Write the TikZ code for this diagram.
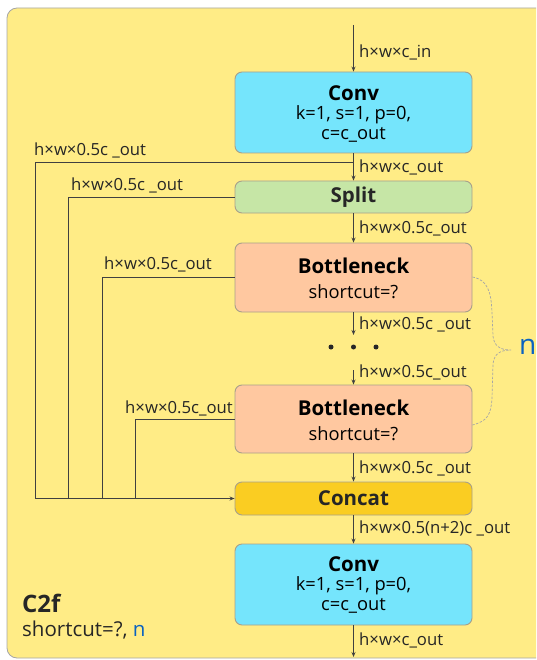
\documentclass[tikz,border=0pt]{standalone}
\usepackage{fontspec}
\setmainfont{Open Sans}
\usetikzlibrary{arrows.meta}
\definecolor{bgyel}{HTML}{FFEC86}
\definecolor{convc}{HTML}{75E5FC}
\definecolor{splitc}{HTML}{C6E6A6}
\definecolor{bnc}{HTML}{FFC8A0}
\definecolor{catc}{HTML}{FACD22}
\definecolor{edgec}{HTML}{A8A08A}
\definecolor{linec}{HTML}{404040}
\definecolor{nblue}{HTML}{0A62C0}
\tikzset{
  blk/.style={draw=edgec, line width=0.9pt, rounded corners=7pt, minimum width=237pt, inner sep=0pt, align=center, text=black!85},
  ttl/.style={font=\fontsize{20.5}{24}\selectfont\bfseries},
  sub/.style={font=\fontsize{18.3}{20}\selectfont},
  lbl/.style={anchor=west, inner sep=0pt, font=\fontsize{16.7}{18}\selectfont, text=black!85},
  ln/.style={draw=linec, line width=0.8pt},
  arr/.style={ln, -{Stealth[length=5pt,width=4pt]}},
}
\begin{document}
\begin{tikzpicture}[x=1pt,y=-1pt]
\useasboundingbox (0,0) rectangle (536,660);
\begin{scope}
\clip (0,0) rectangle (536,660);
\draw[fill=bgyel, draw=black!35, line width=0.8pt, rounded corners=10pt] (7,8) rectangle (560,658);
\end{scope}
% blocks
\node[blk, fill=convc, minimum height=81pt] (conv1) at (353.5,112.5) {};
\node[ttl] at (353.5,93) {Conv};
\node[sub] at (353.5,115) {k=1, s=1, p=0,};
\node[sub] at (353.5,135) {c=c\_out};
\node[blk, fill=splitc, minimum height=32pt, ttl] (split) at (353.5,197) {Split};
\node[blk, fill=bnc, minimum height=69pt] (bn1) at (353.5,277.5) {};
\node[ttl] at (353.5,266) {Bottleneck};
\node[sub] at (353.5,292) {shortcut=?};
\node[blk, fill=bnc, minimum height=68pt] (bn2) at (353.5,419) {};
\node[ttl] at (353.5,408) {Bottleneck};
\node[sub] at (353.5,434) {shortcut=?};
\node[blk, fill=catc, minimum height=33pt, ttl] (concat) at (353.5,498.5) {Concat};
\node[blk, fill=convc, minimum height=81pt] (conv2) at (353.5,584.5) {};
\node[ttl] at (353.5,564) {Conv};
\node[sub] at (353.5,586) {k=1, s=1, p=0,};
\node[sub] at (353.5,606) {c=c\_out};
% coordinates
\coordinate (in) at (353.5,25);
\coordinate (out) at (353.5,657);
\coordinate (j1) at (353.5,162);
\coordinate (x1) at (35,498.5);
\coordinate (x2) at (68,498.5);
\coordinate (x3) at (102,498.5);
\coordinate (x4) at (135,498.5);
\coordinate (d1) at (353.5,335);
\coordinate (d2) at (353.5,370);
% main flow
\draw[arr] (in) -- (conv1.north);
\draw[arr] (conv1.south) -- (split.north);
\draw[arr] (split.south) -- (bn1.north);
\draw[arr] (bn1.south) -- (d1);
\draw[arr] (d2) -- (bn2.north);
\draw[arr] (bn2.south) -- (concat.north);
\draw[arr] (concat.south) -- (conv2.north);
\draw[arr] (conv2.south) -- (out);
% branches
\draw[ln] (j1) -| (x1);
\draw[ln] (split.west) -| (x2);
\draw[ln] (bn1.west) -| (x3);
\draw[ln] (bn2.west) -| (x4);
\draw[arr] (x1) -- (concat.west);
% dots
\foreach \xx/\nm in {331/da,353.5/db,376/dc} \fill[black!85] (\xx,347) circle (2.5pt) coordinate (\nm);
% labels
\node[lbl] at (359,52) {h×w×c\_in};
\node[lbl] at (34,150) {h×w×0.5c \_out};
\node[lbl] at (359,167) {h×w×c\_out};
\node[lbl] at (71,185) {h×w×0.5c \_out};
\node[lbl] at (359,228) {h×w×0.5c\_out};
\node[lbl] at (104,264) {h×w×0.5c\_out};
\node[lbl] at (359,324) {h×w×0.5c \_out};
\node[lbl] at (359,372) {h×w×0.5c\_out};
\node[lbl] at (125,408) {h×w×0.5c\_out};
\node[lbl] at (359,468) {h×w×0.5c \_out};
\node[lbl] at (359,528) {h×w×0.5(n+2)c \_out};
\node[lbl] at (359,640) {h×w×c\_out};
% brace
\draw[draw=black!35, line width=0.7pt, dashed, dash pattern=on 2.5pt off 1.5pt]
  (bn1.east |- 0,277) .. controls (488,280) and (491,292) .. (492,312)
  -- (493,336) .. controls (494,346) and (500,350) .. (511,350)
  .. controls (500,350) and (494,354) .. (493,364)
  -- (492,398) .. controls (491,414) and (488,421) .. (bn2.east |- 0,425);
\node[anchor=west, inner sep=0pt, text=nblue, font=\fontsize{28}{30}\selectfont] (nlab) at (519,347) {n};
% title
\node[anchor=west, inner sep=0pt, font=\fontsize{24}{28}\selectfont\bfseries, text=black!85] (c2f) at (22,603) {C2f};
\node[anchor=west, inner sep=0pt, font=\fontsize{20.5}{24}\selectfont, text=black!85] (sc) at (22,630) {shortcut=?, \textcolor{nblue}{n}};
\end{tikzpicture}
\end{document}
